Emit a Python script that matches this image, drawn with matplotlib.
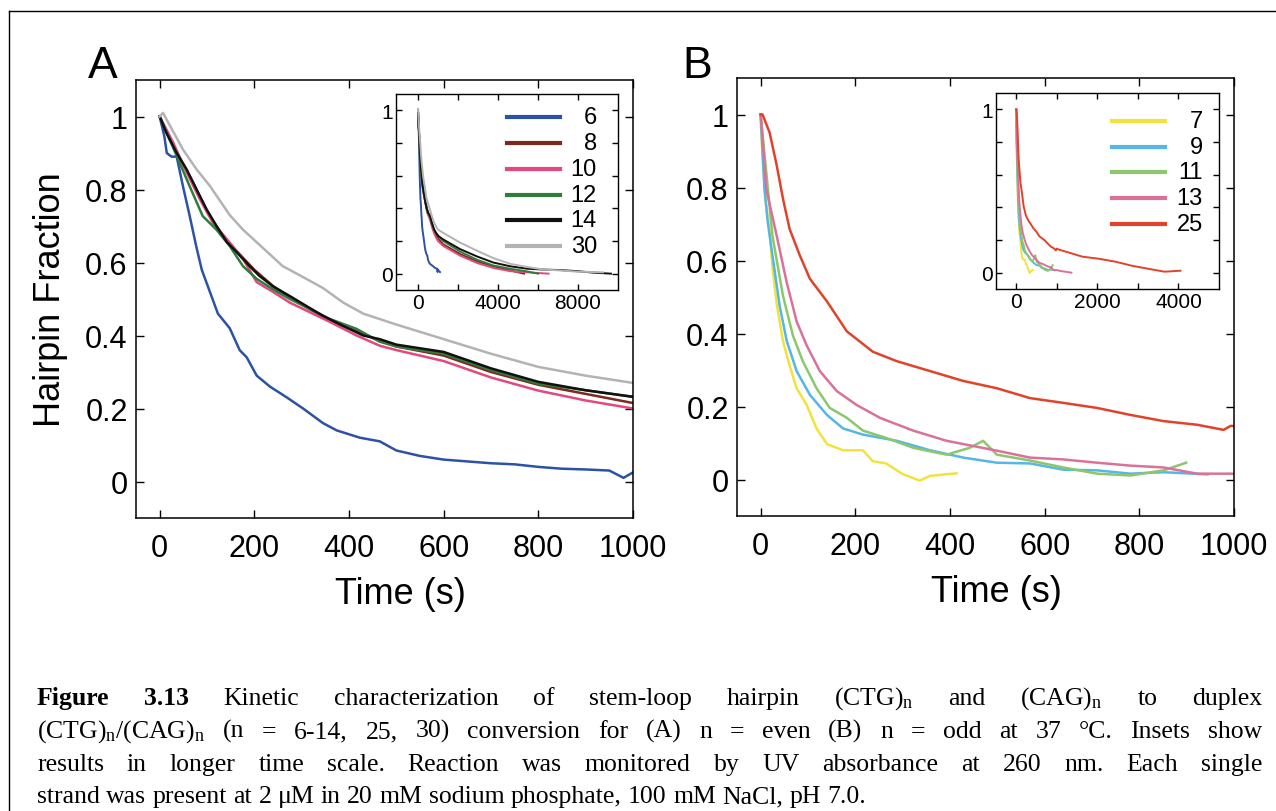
import matplotlib
matplotlib.use("Agg")
import matplotlib.pyplot as plt
from matplotlib.lines import Line2D

# ---- panel A : n = even ----
t6 = [0, 10, 15, 25, 36, 49, 63, 78, 89, 106, 123, 148, 169, 184, 205, 233, 269, 303, 345, 374,
      423, 465, 500, 550, 600, 650, 700, 750, 800, 850, 900, 950, 980, 1000, 1050, 1100]
f6 = [1.0, 0.945, 0.90, 0.89, 0.89, 0.81, 0.73, 0.64, 0.58, 0.52, 0.46, 0.42, 0.36, 0.34, 0.29,
      0.26, 0.23, 0.20, 0.16, 0.14, 0.12, 0.11, 0.085, 0.07, 0.06, 0.055, 0.05, 0.047, 0.04, 0.035,
      0.033, 0.03, 0.01, 0.025, 0.015, 0.01]

t8 = [0, 20, 45, 70, 100, 130, 160, 200, 240, 280, 320, 370, 420, 465, 500, 600, 700, 800, 900,
      1000, 1256, 2110, 2960, 3770, 4620, 5300]
f8 = [1.0, 0.94, 0.88, 0.82, 0.74, 0.68, 0.635, 0.58, 0.535, 0.5, 0.47, 0.435, 0.41, 0.385, 0.37,
      0.345, 0.3, 0.265, 0.24, 0.215, 0.18, 0.12, 0.075, 0.045, 0.02, 0.0]

t10 = [0, 28, 57, 85, 112, 142, 176, 205, 239, 275, 317, 360, 416, 465, 500, 600, 700, 800, 900,
       1000, 1256, 2110, 2960, 3770, 4620, 5500, 6530]
f10 = [1.0, 0.93, 0.847, 0.773, 0.71, 0.664, 0.61, 0.546, 0.52, 0.49, 0.464, 0.437, 0.40, 0.372,
       0.36, 0.33, 0.285, 0.249, 0.222, 0.20, 0.17, 0.11, 0.065, 0.035, 0.015, 0.008, 0.0]

t12 = [0, 21, 42, 63, 91, 120, 148, 176, 205, 239, 275, 317, 360, 416, 465, 500, 600, 700, 800,
       900, 1000, 1256, 2110, 2960, 3770, 4620, 5400, 6000]
f12 = [1.0, 0.937, 0.874, 0.81, 0.727, 0.69, 0.645, 0.59, 0.555, 0.527, 0.50, 0.473, 0.445, 0.418,
       0.383, 0.37, 0.35, 0.305, 0.268, 0.25, 0.232, 0.2, 0.135, 0.085, 0.05, 0.03, 0.015, 0.0]

t14 = [0, 14, 36, 57, 78, 99, 120, 142, 163, 190, 211, 239, 275, 311, 345, 388, 430, 465, 500,
       600, 700, 800, 900, 1000, 1256, 2110, 2960, 3770, 4620, 5480, 6300, 7140, 8000, 8800, 9650]
f14 = [1.0, 0.956, 0.90, 0.855, 0.80, 0.746, 0.70, 0.656, 0.628, 0.59, 0.563, 0.535, 0.508, 0.48,
       0.454, 0.426, 0.40, 0.39, 0.375, 0.355, 0.31, 0.273, 0.25, 0.232, 0.21, 0.15, 0.105, 0.068,
       0.045, 0.03, 0.025, 0.022, 0.015, 0.006, 0.0]

t30 = [0, 7, 28, 49, 78, 106, 127, 148, 176, 218, 260, 303, 345, 388, 430, 465, 500, 600, 700,
       800, 900, 1000, 1256, 2110, 2960, 3770, 4620, 5500, 6280, 7100, 7990, 8800, 9250]
f30 = [1.0, 1.01, 0.96, 0.91, 0.855, 0.81, 0.77, 0.73, 0.69, 0.64, 0.59, 0.56, 0.53, 0.49, 0.46,
       0.445, 0.43, 0.39, 0.35, 0.314, 0.29, 0.27, 0.25, 0.19, 0.14, 0.095, 0.06, 0.04, 0.025,
       0.02, 0.012, 0.01, 0.008]

# ---- panel B : n = odd ----
t7 = [0, 4, 12, 19, 25, 34, 47, 61, 76, 97, 118, 140, 174, 216, 237, 265, 300, 336, 358, 414]
f7 = [0.99, 0.885, 0.75, 0.68, 0.58, 0.48, 0.38, 0.313, 0.25, 0.205, 0.14, 0.097, 0.08, 0.08,
      0.05, 0.044, 0.015, -0.003, 0.01, 0.017]

t9 = [0, 8, 15, 25, 40, 55, 76, 104, 140, 174, 216, 288, 358, 428, 499, 569, 639, 711, 781, 851, 944]
f9 = [1.0, 0.795, 0.705, 0.613, 0.477, 0.38, 0.297, 0.232, 0.177, 0.14, 0.123, 0.106, 0.08, 0.06,
      0.046, 0.044, 0.027, 0.025, 0.016, 0.02, 0.014]

t11 = [0, 12, 25, 47, 68, 89, 118, 146, 182, 216, 265, 322, 393, 442, 470, 499, 569, 639, 711,
       781, 851, 899]
f11 = [1.0, 0.84, 0.667, 0.504, 0.395, 0.324, 0.25, 0.196, 0.169, 0.134, 0.114, 0.087, 0.068,
       0.087, 0.106, 0.068, 0.052, 0.033, 0.016, 0.011, 0.025, 0.046]

t13 = [0, 12, 34, 55, 76, 97, 125, 161, 203, 252, 322, 393, 499, 569, 639, 711, 781, 851, 922,
       993, 1100, 1360]
f13 = [1.0, 0.795, 0.667, 0.54, 0.433, 0.368, 0.297, 0.242, 0.204, 0.169, 0.134, 0.106, 0.079,
       0.06, 0.055, 0.046, 0.038, 0.033, 0.016, 0.016, 0.01, 0.0]

t25 = [0, 4, 19, 34, 47, 61, 83, 104, 140, 182, 237, 288, 358, 428, 499, 569, 639, 711, 781, 851,
       922, 978, 993, 1070, 1630, 2040, 2450, 2840, 3250, 3660, 4050]
f25 = [1.0, 1.0, 0.95, 0.86, 0.77, 0.687, 0.613, 0.55, 0.488, 0.406, 0.35, 0.324, 0.297, 0.27,
       0.25, 0.223, 0.21, 0.196, 0.177, 0.16, 0.15, 0.136, 0.147, 0.14, 0.098, 0.085, 0.067, 0.043,
       0.024, 0.006, 0.012]

labels_a = ["6", "8", "10", "12", "14", "30"]
colors_a = ["#2c52a6", "#7c2a1c", "#e4487c", "#2f7d3b", "#111111", "#b3b3b3"]
series_a = [(t6, f6), (t8, f8), (t10, f10), (t12, f12), (t14, f14), (t30, f30)]

labels_b = ["7", "9", "11", "13", "25"]
colors_b = ["#f2e33c", "#55b7e4", "#8cc76c", "#db7199", "#e1432a"]
series_b = [(t7, f7), (t9, f9), (t11, f11), (t13, f13), (t25, f25)]

yticks = [0, 0.2, 0.4, 0.6, 0.8, 1.0]
ytick_labels = ["0", "0.2", "0.4", "0.6", "0.8", "1"]
xticks = [0, 200, 400, 600, 800, 1000]

plt.rcParams["font.family"] = ["Liberation Sans", "DejaVu Sans"]

W, H = 1276, 812
fig = plt.figure(figsize=(W / 100, H / 100), dpi=100)


def add_ax(left, top, right, bottom):
    return fig.add_axes([left / W, 1 - bottom / H, (right - left) / W, (bottom - top) / H])


def main_panel(ax, series, colors, xlab_x):
    for (t, f), c in zip(series, colors):
        ax.plot(t, f, color=c, lw=1.8)
    ax.set_xlim(-50, 1000)
    ax.set_ylim(-0.1, 1.1)
    ax.set_xticks(xticks)
    ax.set_yticks(yticks)
    ax.set_yticklabels(ytick_labels)
    ax.tick_params(direction="in", top=True, right=True, length=6, width=1, labelsize=22)
    ax.tick_params(axis="x", pad=11)
    ax.tick_params(axis="y", pad=6)
    for s in ax.spines.values():
        s.set_linewidth(1.1)
    ax.set_xlabel("Time (s)", fontsize=26)
    ax.xaxis.set_label_coords(xlab_x, -0.133)


def inset_panel(ax, series, colors, labels, xlim, xt, xt_labels, leg):
    for (t, f), c in zip(series, colors):
        ax.plot(t, f, color=c, lw=1.4)
    ax.set_xlim(*xlim)
    ax.set_ylim(-0.1, 1.1)
    ax.set_xticks(xt)
    ax.set_xticklabels(xt_labels)
    ax.set_yticks(yticks)
    ax.set_yticklabels(["0", "", "", "", "", "1"])
    ax.tick_params(direction="in", top=True, right=True, length=4, width=1,
                   labelsize=15, pad=2)
    for s in ax.spines.values():
        s.set_linewidth(1.0)
    x0, x1, xr, y0, dy = leg
    for i, (lab, c) in enumerate(zip(labels, colors)):
        y = y0 - i * dy
        ax.plot([x0, x1], [y, y], color=c, lw=3, transform=ax.transAxes, clip_on=False)
        ax.text(xr, y, lab, fontsize=17, ha="right", va="center", transform=ax.transAxes)


axA = add_ax(136, 81, 633, 519)
main_panel(axA, series_a, colors_a, 0.533)
axA.set_ylabel("Hairpin Fraction", fontsize=26)
axA.yaxis.set_label_coords(-0.137, 0.5)

axB = add_ax(737, 79, 1234, 517)
main_panel(axB, series_b, colors_b, 0.523)

inA = add_ax(396, 95, 618, 291)
inset_panel(inA, series_a, colors_a, labels_a, (-1100, 10000),
            [0, 2000, 4000, 6000, 8000], ["0", "", "4000", "", "8000"],
            (0.50, 0.74, 0.905, 0.883, 0.132))

inB = add_ax(996, 94, 1219, 290)
inset_panel(inB, series_b, colors_b, labels_b, (-500, 5000),
            [0, 1000, 2000, 3000, 4000], ["0", "", "2000", "", "4000"],
            (0.52, 0.758, 0.928, 0.857, 0.131))

fig.text(103 / W, 1 - 67 / H, "A", fontsize=32, ha="center", va="center")
fig.text(697 / W, 1 - 67 / H, "B", fontsize=32, ha="center", va="center")

# outer frame (runs off the right and bottom edges)
fig.add_artist(Line2D([9 / W, 1.0], [1 - 12 / H] * 2, color="black", lw=1.0,
                      transform=fig.transFigure))
fig.add_artist(Line2D([9 / W] * 2, [0.0, 1 - 12 / H], color="black", lw=1.0,
                      transform=fig.transFigure))

# caption, justified line by line
cap_lines = [
    [("Figure", True), ("3.13", True), ("Kinetic", False), ("characterization", False),
     ("of", False), ("stem-loop", False), ("hairpin", False), (r"$\mathregular{(CTG)_n}$", False),
     ("and", False), (r"$\mathregular{(CAG)_n}$", False), ("to", False), ("duplex", False)],
    [(r"$\mathregular{(CTG)_n/(CAG)_n}$", False)] +
    [(w, False) for w in "(n = 6-14, 25, 30) conversion for (A) n = even (B) n = odd at 37 °C. Insets show".split()],
    [(w, False) for w in "results in longer time scale. Reaction was monitored by UV absorbance at 260 nm. Each single".split()],
    [(w, False) for w in "strand was present at 2 μM in 20 mM sodium phosphate, 100 mM NaCl, pH 7.0.".split()],
]
baselines = [705, 738, 771, 803]
cap_left, cap_right = 37, 1262
cap_size = 18.5

renderer = fig.canvas.get_renderer()
for li, (words, yb) in enumerate(zip(cap_lines, baselines)):
    texts = []
    for w, bold in words:
        t = fig.text(0, 1 - yb / H, w, fontsize=cap_size, family="Liberation Serif",
                     weight="bold" if bold else "normal", va="baseline", ha="left")
        texts.append(t)
    widths = [t.get_window_extent(renderer).width for t in texts]
    space = renderer.points_to_pixels(cap_size) * 0.25
    if li < len(cap_lines) - 1:
        space = (cap_right - cap_left - sum(widths)) / (len(texts) - 1)
    x = cap_left
    for t, w in zip(texts, widths):
        t.set_x(x / W)
        x += w + space

fig.savefig("out.png", dpi=100)
